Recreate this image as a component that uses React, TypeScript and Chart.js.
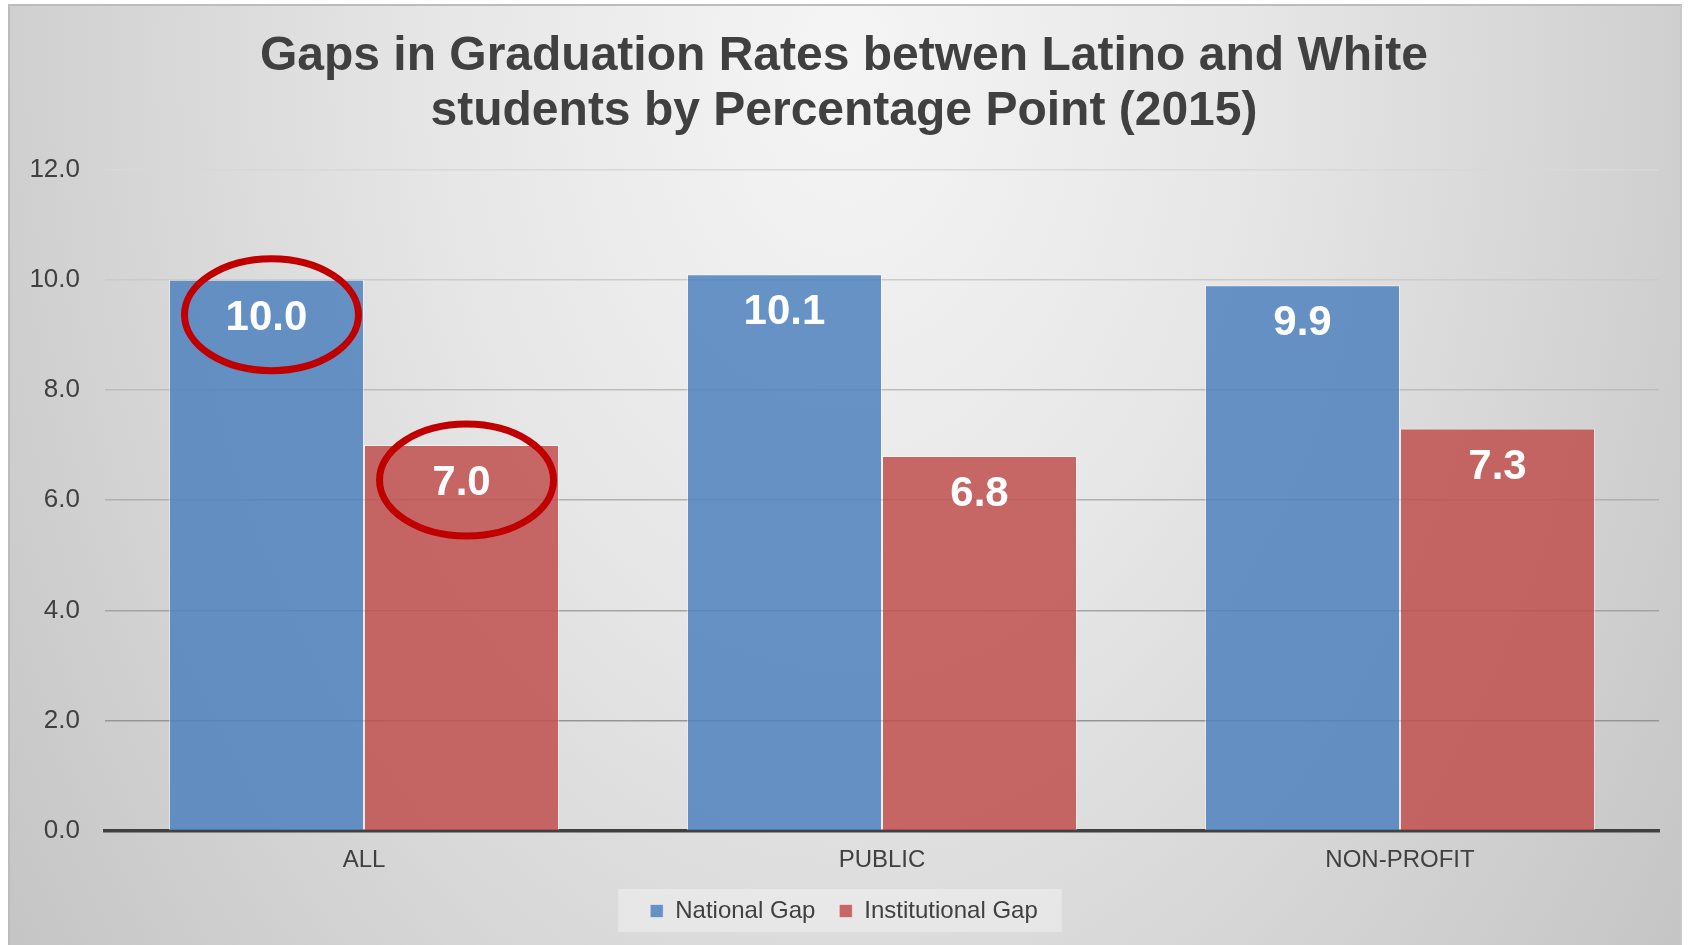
import React, { useEffect, useRef } from "react";
import { Chart, registerables } from "chart.js";

Chart.register(...registerables);

const categories = ["ALL", "PUBLIC", "NON-PROFIT"];
const nationalGap = [10.0, 10.1, 9.9];
const institutionalGap = [7.0, 6.8, 7.3];
const seriesNames = ["National Gap", "Institutional Gap"];
const titleLines = [
  "Gaps in Graduation Rates betwen Latino and White",
  "students by Percentage Point (2015)",
];
const yMin = 0;
const yMax = 12;
const yStep = 2;
const circled = [
  { dataset: 0, index: 0 },
  { dataset: 1, index: 0 },
];

const FONT = "'Liberation Sans', Arial, sans-serif";
const TEXT = "#404040";

const legendBgPlugin = {
  id: "legendBg",
  beforeDraw(chart: any) {
    const lg = chart.legend;
    if (!lg || !lg.legendHitBoxes || !lg.legendHitBoxes.length) return;
    const hb = lg.legendHitBoxes;
    const first = hb[0];
    const last = hb[hb.length - 1];
    const cy = first.top + first.height / 2;
    const ctx = chart.ctx;
    ctx.save();
    ctx.fillStyle = "rgba(255,255,255,0.33)";
    const x0 = first.left - 32;
    const x1 = last.left + last.width + 24;
    ctx.fillRect(x0, cy - 22, x1 - x0, 43);
    ctx.restore();
  },
};

const valueLabelPlugin = {
  id: "valueLabels",
  afterDatasetsDraw(chart: any) {
    const ctx = chart.ctx;
    ctx.save();
    ctx.font = `bold 42px ${FONT}`;
    ctx.fillStyle = "#ffffff";
    ctx.textAlign = "center";
    ctx.textBaseline = "alphabetic";
    chart.data.datasets.forEach((ds: any, di: number) => {
      const meta = chart.getDatasetMeta(di);
      meta.data.forEach((el: any, i: number) => {
        const v = ds.data[i];
        ctx.fillText(Number(v).toFixed(1), el.x, el.y + 50);
      });
    });
    ctx.restore();
  },
};

const ellipsePlugin = {
  id: "circledLabels",
  afterDraw(chart: any) {
    const ctx = chart.ctx;
    ctx.save();
    ctx.strokeStyle = "#c00000";
    ctx.lineWidth = 7;
    circled.forEach((c) => {
      const el = chart.getDatasetMeta(c.dataset).data[c.index];
      if (!el) return;
      ctx.beginPath();
      ctx.ellipse(el.x + 5, el.y + 35, 87, 56, 0, 0, Math.PI * 2);
      ctx.stroke();
    });
    ctx.restore();
  },
};

export default function App() {
  const canvasRef = useRef<HTMLCanvasElement | null>(null);

  useEffect(() => {
    document.body.style.margin = "0";
    document.body.style.overflow = "hidden";
    const canvas = canvasRef.current;
    if (!canvas) return;
    const chart = new Chart(canvas, {
      type: "bar",
      data: {
        labels: categories,
        datasets: [
          {
            label: seriesNames[0],
            data: nationalGap,
            backgroundColor: "rgba(79,129,189,0.85)",
            borderColor: "rgba(255,255,255,0.45)",
            borderWidth: 1,
            categoryPercentage: 0.753,
            barPercentage: 1,
          },
          {
            label: seriesNames[1],
            data: institutionalGap,
            backgroundColor: "rgba(192,80,77,0.85)",
            borderColor: "rgba(255,255,255,0.45)",
            borderWidth: 1,
            categoryPercentage: 0.753,
            barPercentage: 1,
          },
        ],
      },
      options: {
        responsive: false,
        animation: false,
        devicePixelRatio: 1,
        layout: { padding: { top: 23, left: 19, right: 21, bottom: 12 } },
        plugins: {
          title: {
            display: true,
            text: titleLines,
            color: TEXT,
            font: { family: FONT, size: 48, weight: "bold", lineHeight: 1.15 },
            padding: { top: 0, bottom: 30 },
          },
          legend: {
            display: true,
            position: "bottom",
            labels: {
              color: TEXT,
              font: { family: FONT, size: 24 },
              boxWidth: 13,
              boxHeight: 13,
              padding: 24,
            },
          },
          tooltip: { enabled: false },
        },
        scales: {
          x: {
            afterFit: (scale: any) => {
              scale.height = 44;
            },
            grid: { display: false, drawTicks: false },
            border: { display: true, color: "#404040", width: 3.5 },
            ticks: {
              color: TEXT,
              font: { family: FONT, size: 24 },
              padding: 15,
            },
          },
          y: {
            min: yMin,
            max: yMax,
            afterFit: (scale: any) => {
              scale.width = 76;
            },
            grid: {
              drawTicks: false,
              lineWidth: 1.5,
              color: (ctx: any) => {
                const v = ctx.tick ? ctx.tick.value : 0;
                const t = (yMax - v) / (yMax - yMin);
                const g = Math.round(216 - t * 80);
                return `rgb(${g},${g},${g})`;
              },
            },
            border: { display: false },
            ticks: {
              stepSize: yStep,
              color: TEXT,
              font: { family: FONT, size: 26 },
              padding: 25,
              callback: (v: any) => Number(v).toFixed(1),
            },
          },
        },
      },
      plugins: [legendBgPlugin, valueLabelPlugin, ellipsePlugin],
    });
    return () => chart.destroy();
  }, []);

  return (
    <div
      style={{
        position: "absolute",
        left: 8,
        top: 4,
        width: 1674,
        height: 941,
        boxSizing: "border-box",
        borderTop: "2px solid #bcbcbc",
        borderLeft: "2px solid #bcbcbc",
        borderRight: "2px solid #c8c8c8",
        background:
          "radial-gradient(ellipse 1030px 1500px at 50% 6%, #f5f5f5 0%, #e6e6e6 40%, #c5c5c5 100%)",
        overflow: "hidden",
      }}
    >
      <canvas
        ref={canvasRef}
        width={1670}
        height={939}
        style={{ display: "block", width: 1670, height: 939 }}
      />
    </div>
  );
}
